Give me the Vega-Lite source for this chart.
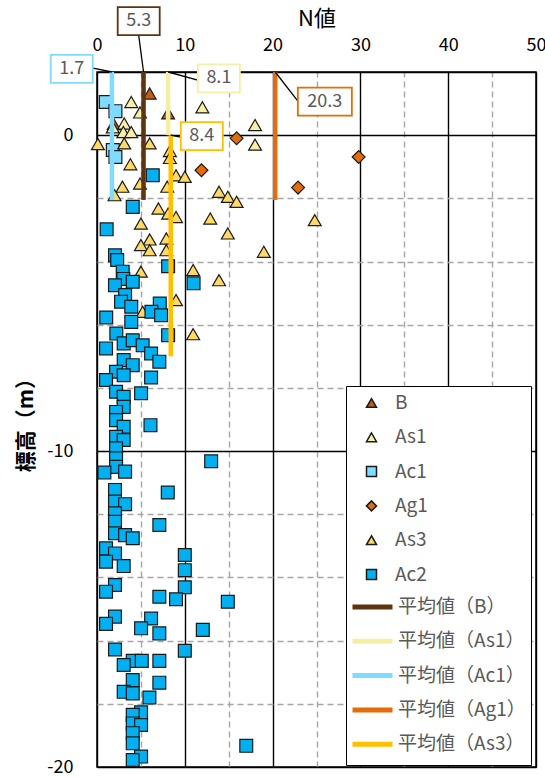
{
  "$schema": "https://vega.github.io/schema/vega-lite/v6.json",
  "width": 439,
  "height": 695,
  "autosize": {"type": "none"},
  "padding": {"left": 97, "top": 72, "right": 9, "bottom": 10},
  "background": "white",
  "config": {
    "font": "Noto Sans CJK JP",
    "view": {"stroke": "black", "strokeWidth": 1.5},
    "axis": {"labelOverlap": false}
  },
  "datasets": {
    "points": [
      {"layer": "B", "n": 6.0, "elev": 1.32}, {"layer": "B", "n": 8.1, "elev": 0.69}, {"layer": "B", "n": 1.9, "elev": 0.35},
      {"layer": "As1", "n": 3.9, "elev": 1.05}, {"layer": "As1", "n": 4.9, "elev": 0.72}, {"layer": "As1", "n": 3.1, "elev": 0.37}, {"layer": "As1", "n": 3.0, "elev": 0.1}, {"layer": "As1", "n": 3.9, "elev": 0.1}, {"layer": "As1", "n": 1.8, "elev": 0.25}, {"layer": "As1", "n": 12.0, "elev": 0.88}, {"layer": "As1", "n": 18.0, "elev": 0.32}, {"layer": "As1", "n": 18.0, "elev": -0.3},
      {"layer": "Ac1", "n": 1.0, "elev": 1.05}, {"layer": "Ac1", "n": 2.1, "elev": 0.76}, {"layer": "Ac1", "n": 1.8, "elev": -0.47}, {"layer": "Ac1", "n": 2.1, "elev": -0.69},
      {"layer": "Ag1", "n": 15.9, "elev": -0.1}, {"layer": "Ag1", "n": 11.9, "elev": -1.11}, {"layer": "Ag1", "n": 22.9, "elev": -1.66}, {"layer": "Ag1", "n": 29.8, "elev": -0.69},
      {"layer": "As3", "n": 0.1, "elev": -0.28}, {"layer": "As3", "n": 3.1, "elev": -0.26}, {"layer": "As3", "n": 6.0, "elev": -0.26}, {"layer": "As3", "n": 8.3, "elev": -0.5}, {"layer": "As3", "n": 8.3, "elev": -0.72}, {"layer": "As3", "n": 3.8, "elev": -0.92}, {"layer": "As3", "n": 9.0, "elev": -1.27}, {"layer": "As3", "n": 10.0, "elev": -1.32}, {"layer": "As3", "n": 2.9, "elev": -1.63}, {"layer": "As3", "n": 4.9, "elev": -1.53}, {"layer": "As3", "n": 8.0, "elev": -1.63}, {"layer": "As3", "n": 2.0, "elev": -1.9}, {"layer": "As3", "n": 13.9, "elev": -1.79}, {"layer": "As3", "n": 14.9, "elev": -1.95}, {"layer": "As3", "n": 15.9, "elev": -2.11}, {"layer": "As3", "n": 7.0, "elev": -2.32}, {"layer": "As3", "n": 8.1, "elev": -2.48}, {"layer": "As3", "n": 9.0, "elev": -2.59}, {"layer": "As3", "n": 12.9, "elev": -2.64}, {"layer": "As3", "n": 5.0, "elev": -2.8}, {"layer": "As3", "n": 24.8, "elev": -2.69}, {"layer": "As3", "n": 14.9, "elev": -3.11}, {"layer": "As3", "n": 6.0, "elev": -3.3}, {"layer": "As3", "n": 7.9, "elev": -3.27}, {"layer": "As3", "n": 5.0, "elev": -3.48}, {"layer": "As3", "n": 6.0, "elev": -3.64}, {"layer": "As3", "n": 7.9, "elev": -3.64}, {"layer": "As3", "n": 19.0, "elev": -3.69}, {"layer": "As3", "n": 10.95, "elev": -4.27}, {"layer": "As3", "n": 5.0, "elev": -4.32}, {"layer": "As3", "n": 13.9, "elev": -4.59}, {"layer": "As3", "n": 9.0, "elev": -5.22}, {"layer": "As3", "n": 5.2, "elev": -5.59}, {"layer": "As3", "n": 10.95, "elev": -6.3},
      {"layer": "Ac2", "n": 6.35, "elev": -1.27}, {"layer": "Ac2", "n": 4.07, "elev": -2.27}, {"layer": "Ac2", "n": 1.1, "elev": -2.98}, {"layer": "Ac2", "n": 2.05, "elev": -3.8}, {"layer": "Ac2", "n": 2.3, "elev": -3.95}, {"layer": "Ac2", "n": 2.93, "elev": -4.32}, {"layer": "Ac2", "n": 3.0, "elev": -4.55}, {"layer": "Ac2", "n": 2.05, "elev": -4.75}, {"layer": "Ac2", "n": 4.07, "elev": -4.64}, {"layer": "Ac2", "n": 8.1, "elev": -4.15}, {"layer": "Ac2", "n": 11.0, "elev": -4.69}, {"layer": "Ac2", "n": 3.2, "elev": -5.06}, {"layer": "Ac2", "n": 2.74, "elev": -5.27}, {"layer": "Ac2", "n": 3.9, "elev": -5.43}, {"layer": "Ac2", "n": 7.15, "elev": -5.33}, {"layer": "Ac2", "n": 6.2, "elev": -5.59}, {"layer": "Ac2", "n": 7.3, "elev": -5.7}, {"layer": "Ac2", "n": 1.05, "elev": -5.77}, {"layer": "Ac2", "n": 3.9, "elev": -5.91}, {"layer": "Ac2", "n": 2.2, "elev": -6.28}, {"layer": "Ac2", "n": 8.1, "elev": -6.33}, {"layer": "Ac2", "n": 3.04, "elev": -6.59}, {"layer": "Ac2", "n": 4.07, "elev": -6.49}, {"layer": "Ac2", "n": 5.2, "elev": -6.65}, {"layer": "Ac2", "n": 1.03, "elev": -6.75}, {"layer": "Ac2", "n": 6.16, "elev": -6.91}, {"layer": "Ac2", "n": 7.1, "elev": -7.17}, {"layer": "Ac2", "n": 3.04, "elev": -7.12}, {"layer": "Ac2", "n": 4.07, "elev": -7.28}, {"layer": "Ac2", "n": 2.17, "elev": -7.49}, {"layer": "Ac2", "n": 3.04, "elev": -7.6}, {"layer": "Ac2", "n": 1.03, "elev": -7.75}, {"layer": "Ac2", "n": 6.16, "elev": -7.67}, {"layer": "Ac2", "n": 5.02, "elev": -8.17}, {"layer": "Ac2", "n": 2.17, "elev": -8.12}, {"layer": "Ac2", "n": 3.04, "elev": -8.28}, {"layer": "Ac2", "n": 3.04, "elev": -8.6}, {"layer": "Ac2", "n": 2.17, "elev": -8.76}, {"layer": "Ac2", "n": 2.17, "elev": -9.02}, {"layer": "Ac2", "n": 3.04, "elev": -9.23}, {"layer": "Ac2", "n": 6.09, "elev": -9.18}, {"layer": "Ac2", "n": 2.17, "elev": -9.55}, {"layer": "Ac2", "n": 3.04, "elev": -9.65}, {"layer": "Ac2", "n": 2.17, "elev": -9.91}, {"layer": "Ac2", "n": 2.17, "elev": -10.23}, {"layer": "Ac2", "n": 13.0, "elev": -10.32}, {"layer": "Ac2", "n": 2.17, "elev": -10.5}, {"layer": "Ac2", "n": 0.84, "elev": -10.68}, {"layer": "Ac2", "n": 3.2, "elev": -10.65}, {"layer": "Ac2", "n": 2.05, "elev": -11.23}, {"layer": "Ac2", "n": 8.06, "elev": -11.31}, {"layer": "Ac2", "n": 2.05, "elev": -11.6}, {"layer": "Ac2", "n": 3.2, "elev": -11.68}, {"layer": "Ac2", "n": 2.05, "elev": -11.97}, {"layer": "Ac2", "n": 2.05, "elev": -12.24}, {"layer": "Ac2", "n": 7.1, "elev": -12.34}, {"layer": "Ac2", "n": 2.05, "elev": -12.6}, {"layer": "Ac2", "n": 3.2, "elev": -12.66}, {"layer": "Ac2", "n": 4.07, "elev": -12.76}, {"layer": "Ac2", "n": 1.03, "elev": -13.08}, {"layer": "Ac2", "n": 2.05, "elev": -13.24}, {"layer": "Ac2", "n": 10.0, "elev": -13.29}, {"layer": "Ac2", "n": 1.03, "elev": -13.5}, {"layer": "Ac2", "n": 3.04, "elev": -13.64}, {"layer": "Ac2", "n": 10.0, "elev": -13.77}, {"layer": "Ac2", "n": 2.05, "elev": -14.24}, {"layer": "Ac2", "n": 10.0, "elev": -14.31}, {"layer": "Ac2", "n": 1.03, "elev": -14.45}, {"layer": "Ac2", "n": 7.1, "elev": -14.61}, {"layer": "Ac2", "n": 9.0, "elev": -14.69}, {"layer": "Ac2", "n": 14.9, "elev": -14.77}, {"layer": "Ac2", "n": 2.05, "elev": -15.24}, {"layer": "Ac2", "n": 6.16, "elev": -15.3}, {"layer": "Ac2", "n": 1.03, "elev": -15.47}, {"layer": "Ac2", "n": 5.02, "elev": -15.61}, {"layer": "Ac2", "n": 12.05, "elev": -15.66}, {"layer": "Ac2", "n": 7.1, "elev": -15.77}, {"layer": "Ac2", "n": 2.05, "elev": -16.28}, {"layer": "Ac2", "n": 10.0, "elev": -16.32}, {"layer": "Ac2", "n": 4.07, "elev": -16.64}, {"layer": "Ac2", "n": 5.1, "elev": -16.64}, {"layer": "Ac2", "n": 7.1, "elev": -16.64}, {"layer": "Ac2", "n": 3.04, "elev": -16.77}, {"layer": "Ac2", "n": 4.07, "elev": -17.25}, {"layer": "Ac2", "n": 7.1, "elev": -17.33}, {"layer": "Ac2", "n": 3.04, "elev": -17.62}, {"layer": "Ac2", "n": 4.07, "elev": -17.67}, {"layer": "Ac2", "n": 5.97, "elev": -17.8}, {"layer": "Ac2", "n": 5.02, "elev": -18.27}, {"layer": "Ac2", "n": 4.07, "elev": -18.35}, {"layer": "Ac2", "n": 4.07, "elev": -18.62}, {"layer": "Ac2", "n": 5.02, "elev": -18.67}, {"layer": "Ac2", "n": 4.07, "elev": -18.93}, {"layer": "Ac2", "n": 4.07, "elev": -19.25}, {"layer": "Ac2", "n": 17.0, "elev": -19.33}, {"layer": "Ac2", "n": 5.02, "elev": -19.67}, {"layer": "Ac2", "n": 4.07, "elev": -19.78}
    ],
    "means": [
      {"layer": "平均値（B）", "n": 5.3, "top": 2, "bottom": -2.05},
      {"layer": "平均値（As1）", "n": 8.1, "top": 2, "bottom": 0},
      {"layer": "平均値（Ac1）", "n": 1.7, "top": 2, "bottom": -2.05},
      {"layer": "平均値（Ag1）", "n": 20.3, "top": 2, "bottom": -2.05},
      {"layer": "平均値（As3）", "n": 8.4, "top": 0, "bottom": -7.0}
    ],
    "callouts": [
      {"layer": "平均値（B）", "n": 5.3, "top": 2, "bx": 4.75, "by": 3.61, "lx": 4.75, "ly": 3.16},
      {"layer": "平均値（As1）", "n": 8.1, "top": 2, "bx": 13.88, "by": 1.8, "lx": 11.48, "ly": 1.74},
      {"layer": "平均値（Ac1）", "n": 1.7, "top": 2, "bx": -2.88, "by": 2.1, "lx": -0.6, "ly": 2.13},
      {"layer": "平均値（Ag1）", "n": 20.3, "top": 2, "bx": 25.95, "by": 1.06, "lx": 22.88, "ly": 1.08},
      {"layer": "平均値（As3）", "n": 8.4, "top": 0, "bx": 11.94, "by": -0.03, "lx": 9.54, "ly": -0.06}
    ]
  },
  "layer": [
    {
      "data": {"name": "points"},
      "mark": {"type": "point", "filled": true, "opacity": 1, "stroke": "#1a1a1a", "strokeWidth": 1.2},
      "encoding": {
        "x": {
          "field": "n", "type": "quantitative", "title": "N値",
          "scale": {"domain": [0, 50], "nice": false, "zero": false},
          "axis": {
            "orient": "top", "titleFontSize": 22, "titleFontWeight": "normal", "titleColor": "black", "titlePadding": 6,
            "values": [0, 5, 10, 15, 20, 25, 30, 35, 40, 45, 50],
            "labelExpr": "datum.value % 10 === 0 ? datum.label : ''",
            "labelFontSize": 18, "labelColor": "black", "labelPadding": 18, "labelFlush": false, "labelOverlap": false,
            "ticks": false, "domain": false, "grid": true, "gridWidth": 1.4,
            "gridColor": {"condition": {"test": "datum.value % 10 === 0", "value": "black"}, "value": "#A6A6A6"},
            "gridDash": {"condition": {"test": "datum.value % 10 === 0", "value": [1, 0]}, "value": [6, 4]}
          }
        },
        "y": {
          "field": "elev", "type": "quantitative", "title": "標高（m）",
          "scale": {"domain": [-20, 2], "nice": false, "zero": false},
          "axis": {
            "titleFontSize": 21, "titleFontWeight": "bold", "titleColor": "black", "titlePadding": 10,
            "values": [2, 1, 0, -1, -2, -3, -4, -5, -6, -7, -8, -9, -10, -11, -12, -13, -14, -15, -16, -17, -18, -19, -20],
            "labelExpr": "datum.value % 5 === 0 ? '' + datum.value : ''",
            "labelFontSize": 18, "labelColor": "black", "labelPadding": 24, "labelFlush": false, "labelOverlap": false,
            "ticks": false, "domain": false, "grid": true, "gridWidth": 1.4,
            "gridColor": {"condition": {"test": "datum.value % 5 === 0 || datum.value === 2", "value": "black"}, "value": "#A6A6A6"},
            "gridDash": {"condition": {"test": "datum.value % 5 === 0 || datum.value === 2", "value": [1, 0]}, "value": [6, 4]}
          }
        },
        "color": {
          "field": "layer", "type": "nominal",
          "scale": {
            "domain": ["B", "As1", "Ac1", "Ag1", "As3", "Ac2", "平均値（B）", "平均値（As1）", "平均値（Ac1）", "平均値（Ag1）", "平均値（As3）"],
            "range": ["#C55A11", "#F8F0A6", "#7FDBFF", "#E46C0A", "#FFD966", "#00B0F0", "#5E3410", "#F7F2B5", "#7FDBFF", "#E46C0A", "#FFC000"]
          },
          "legend": {
            "title": null, "orient": "none", "legendX": 249, "legendY": 314,
            "fillColor": "white", "strokeColor": "black",
            "padding": 8, "symbolOffset": 8, "labelOffset": 14,
            "labelFontSize": 19, "labelColor": "#595959", "labelFont": "Noto Sans CJK JP",
            "rowPadding": 15.3, "clipHeight": 18
          }
        },
        "shape": {
          "field": "layer", "type": "nominal",
          "scale": {
            "domain": ["B", "As1", "Ac1", "Ag1", "As3", "Ac2", "平均値（B）", "平均値（As1）", "平均値（Ac1）", "平均値（Ag1）", "平均値（As3）"],
            "range": ["triangle-up", "triangle-up", "square", "diamond", "triangle-up", "square", "M-2.5,0H2.5", "M-2.5,0H2.5", "M-2.5,0H2.5", "M-2.5,0H2.5", "M-2.5,0H2.5"]
          }
        },
        "size": {
          "field": "layer", "type": "nominal",
          "scale": {"domain": ["B", "As1", "Ac1", "Ag1", "As3", "Ac2"], "range": [165, 165, 190, 130, 165, 190]},
          "legend": null
        }
      }
    },
    {
      "data": {"name": "means"},
      "mark": {"type": "rule", "strokeWidth": 4.5},
      "encoding": {
        "x": {"field": "n", "type": "quantitative", "title": "N値"},
        "y": {"field": "top", "type": "quantitative", "title": "標高（m）"},
        "y2": {"field": "bottom"},
        "stroke": {"field": "layer", "type": "nominal",
          "scale": {"domain": ["平均値（B）", "平均値（As1）", "平均値（Ac1）", "平均値（Ag1）", "平均値（As3）"], "range": ["#5E3410", "#F5EFA6", "#7FDBFF", "#E46C0A", "#FFC000"]},
          "legend": {
            "title": null, "orient": "none", "legendX": 251, "legendY": 522,
            "fillColor": "white", "strokeColor": "transparent",
            "padding": 4, "symbolOffset": -2, "labelOffset": 3,
            "symbolType": "stroke", "symbolSize": 1600, "symbolStrokeWidth": 5,
            "labelFontSize": 19, "labelColor": "#595959", "labelFont": "Noto Sans CJK JP",
            "rowPadding": 15.3, "clipHeight": 18
          }
        }
      }
    },
    {
      "data": {"name": "callouts"},
      "mark": {"type": "rule", "color": "black", "strokeWidth": 1.3},
      "encoding": {
        "x": {"field": "n", "type": "quantitative", "title": "N値"},
        "y": {"field": "top", "type": "quantitative", "title": "標高（m）"},
        "x2": {"field": "lx"},
        "y2": {"field": "ly"}
      }
    },
    {
      "data": {"name": "callouts"},
      "transform": [{"filter": {"not": {"field": "layer", "equal": "平均値（Ag1）"}}}],
      "mark": {"type": "rect", "width": 42, "height": 28, "fill": "white", "strokeWidth": 1.8},
      "encoding": {
        "x": {"field": "bx", "type": "quantitative", "title": "N値"},
        "y": {"field": "by", "type": "quantitative", "title": "標高（m）"},
        "stroke": {"field": "layer", "type": "nominal", "legend": null}
      }
    },
    {
      "data": {"name": "callouts"},
      "transform": [{"filter": {"field": "layer", "equal": "平均値（Ag1）"}}],
      "mark": {"type": "rect", "width": 54, "height": 28, "fill": "white", "strokeWidth": 1.8},
      "encoding": {
        "x": {"field": "bx", "type": "quantitative", "title": "N値"},
        "y": {"field": "by", "type": "quantitative", "title": "標高（m）"},
        "stroke": {"field": "layer", "type": "nominal", "legend": null}
      }
    },
    {
      "data": {"name": "callouts"},
      "mark": {"type": "text", "fontSize": 18, "color": "#595959", "font": "Noto Sans CJK JP"},
      "encoding": {
        "x": {"field": "bx", "type": "quantitative", "title": "N値"},
        "y": {"field": "by", "type": "quantitative", "title": "標高（m）"},
        "text": {"field": "n", "type": "quantitative", "format": ".1f"}
      }
    }
  ]
}
